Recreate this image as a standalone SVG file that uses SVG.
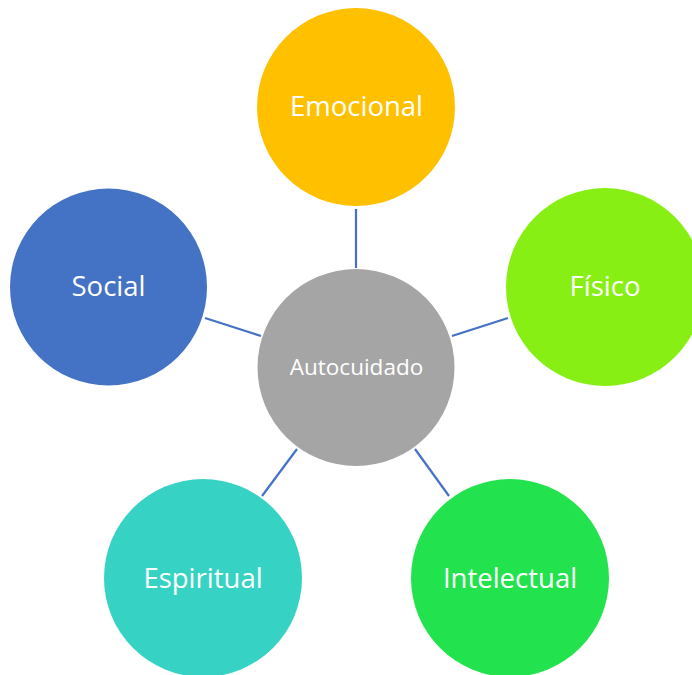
<svg xmlns="http://www.w3.org/2000/svg" width="692" height="675" viewBox="0 0 692 675">
<style>
.n text{fill:#fff;font-family:"Open Sans","Noto Sans",sans-serif;text-anchor:middle}
.big{font-size:27.5px}
.c line{stroke:#4472C4;stroke-width:2.2}
</style>
<rect width="692" height="675" fill="#fff"/>
<g class="c" id="connectors">
<line x1="356" y1="209" x2="356" y2="268"/>
<line x1="205" y1="318" x2="261" y2="336"/>
<line x1="452" y1="336" x2="508" y2="318"/>
<line x1="262" y1="496" x2="297" y2="449"/>
<line x1="449" y1="496" x2="415" y2="449"/>
</g>
<g class="n" id="autocuidado"><circle cx="356" cy="367.5" r="98.5" fill="#A5A5A5"/><text x="356.5" y="375" font-size="22.5">Autocuidado</text></g>
<g class="n" id="emocional"><circle cx="356" cy="107" r="99" fill="#FFC000"/><text class="big" x="356.5" y="116">Emocional</text></g>
<g class="n" id="fisico"><circle cx="605" cy="287" r="99" fill="#87EF14"/><text class="big" x="605" y="296">Físico</text></g>
<g class="n" id="social"><circle cx="108.5" cy="287" r="98.5" fill="#4472C4"/><text class="big" x="108.5" y="296">Social</text></g>
<g class="n" id="espiritual"><circle cx="203" cy="578" r="99" fill="#36D3C4"/><text class="big" x="203" y="588">Espiritual</text></g>
<g class="n" id="intelectual"><circle cx="510" cy="578" r="99" fill="#22E24D"/><text class="big" x="510" y="588">Intelectual</text></g>
</svg>
